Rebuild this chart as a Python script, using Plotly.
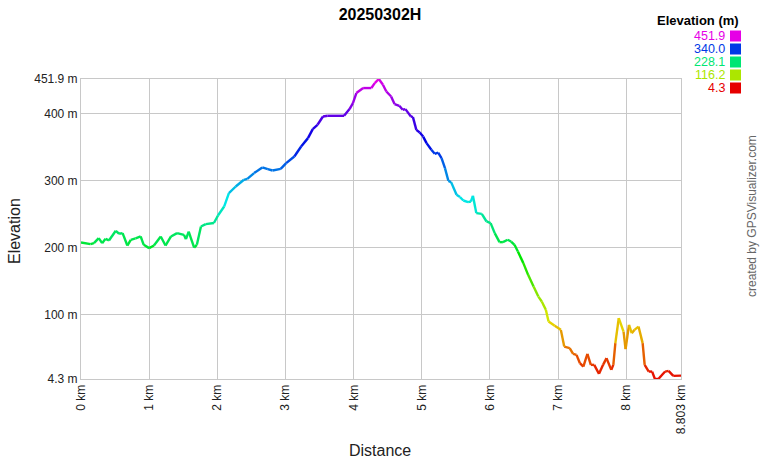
import colorsys
import plotly.graph_objects as go

# ---- data ----
dist_km = [0.00, 0.14, 0.19, 0.26, 0.31, 0.36, 0.41, 0.51, 0.56, 0.61, 0.68, 0.73, 0.80, 0.875, 0.92,
           1.00, 1.07, 1.17, 1.24, 1.32, 1.41, 1.51, 1.54, 1.58, 1.66, 1.70, 1.76, 1.83, 1.95, 2.01,
           2.10, 2.17, 2.27, 2.39, 2.44, 2.54, 2.66, 2.74, 2.81, 2.93, 3.01, 3.13, 3.23, 3.33, 3.40,
           3.47, 3.55, 3.62, 3.86, 3.94, 3.99, 4.04, 4.14, 4.26, 4.31, 4.37, 4.43, 4.48, 4.55, 4.60,
           4.67, 4.72, 4.76, 4.84, 4.87, 4.92, 4.97, 5.02, 5.07, 5.14, 5.19, 5.24, 5.29, 5.34, 5.39,
           5.43, 5.51, 5.56, 5.61, 5.68, 5.72, 5.75, 5.80, 5.88, 5.95, 6.01, 6.07, 6.14, 6.19, 6.26,
           6.31, 6.36, 6.41, 6.49, 6.56, 6.64, 6.71, 6.76, 6.82, 6.86, 6.95, 7.04, 7.09, 7.17, 7.22,
           7.27, 7.32, 7.37, 7.43, 7.48, 7.53, 7.60, 7.66, 7.71, 7.78, 7.81, 7.84, 7.89, 7.96, 7.99,
           8.04, 8.08, 8.12, 8.18, 8.24, 8.27, 8.33, 8.38, 8.42, 8.47, 8.57, 8.62, 8.69, 8.803]
elev_m = [207.9, 205.5, 207.0, 214.5, 207.0, 213.4, 211.0, 225.4, 221.0, 222.0, 203.4, 212.0, 214.0, 217.0, 204.5,
          199.6, 203.4, 217.0, 203.4, 217.0, 222.0, 219.4, 213.0, 224.3, 200.4, 204.5, 231.8, 235.4, 237.0, 248.2,
          261.6, 281.6, 291.5, 301.5, 303.0, 311.5, 319.9, 317.5, 315.4, 317.9, 326.4, 336.3, 351.2, 363.7, 377.2,
          383.6, 396.0, 397.0, 397.0, 407.0, 416.0, 430.9, 438.4, 438.4, 445.8, 451.9, 443.3, 433.3, 425.8, 414.5,
          411.9, 406.0, 407.0, 396.0, 395.0, 376.0, 372.0, 366.0, 356.3, 346.3, 340.3, 342.2, 333.9, 319.0, 300.0,
          298.0, 279.1, 275.7, 270.6, 268.2, 269.1, 277.6, 251.8, 250.7, 239.3, 236.9, 221.9, 208.5, 208.5, 212.0,
          209.4, 204.5, 194.5, 177.2, 159.7, 142.2, 127.3, 119.9, 107.5, 90.0, 83.6, 77.6, 52.7, 50.3, 41.8,
          40.3, 27.9, 22.8, 41.8, 25.4, 25.4, 12.0, 25.4, 35.4, 17.9, 25.4, 57.8, 95.0, 75.1, 48.8,
          85.0, 72.7, 77.6, 82.5, 57.8, 25.4, 15.4, 15.4, 4.3, 4.3, 15.4, 16.4, 8.9, 9.4]

y_tick_vals = [4.3, 100, 200, 300, 400, 451.9]
y_tick_text = ["4.3 m", "100 m", "200 m", "300 m", "400 m", "451.9 m"]
x_tick_vals = [0, 1, 2, 3, 4, 5, 6, 7, 8, 8.803]
x_tick_text = ["0 km", "1 km", "2 km", "3 km", "4 km", "5 km", "6 km", "7 km", "8 km", "8.803 km"]
legend_vals = [451.9, 340.0, 228.1, 116.2, 4.3]

E_MIN, E_MAX = 4.3, 451.9


def elev_color(e):
    f = max(0.0, min(1.0, (e - E_MIN) / (E_MAX - E_MIN)))
    r, g, b = colorsys.hsv_to_rgb(f * 300 / 360.0, 1.0, 0.9)
    return "rgb(%d,%d,%d)" % (round(r * 255), round(g * 255), round(b * 255))


fig = go.Figure()

# group segments into colour bins
NBINS = 60
bins = {}
for i in range(len(dist_km) - 1):
    mid = (elev_m[i] + elev_m[i + 1]) / 2
    k = int(round((mid - E_MIN) / (E_MAX - E_MIN) * NBINS))
    bx, by = bins.setdefault(k, ([], []))
    bx += [dist_km[i], dist_km[i + 1], None]
    by += [elev_m[i], elev_m[i + 1], None]

for k in sorted(bins):
    bx, by = bins[k]
    e = E_MIN + k / NBINS * (E_MAX - E_MIN)
    fig.add_trace(go.Scatter(x=bx, y=by, mode="lines",
                             line=dict(color=elev_color(e), width=2.4),
                             hoverinfo="skip", showlegend=False))

FONT = "Liberation Sans, Arial, sans-serif"
L, R, T, B = 81, 79, 79, 81
W, HH = 760, 460
PW, PH = W - L - R, HH - T - B


def pxx(px):
    return (px - L) / PW


def pxy(py):
    return (HH - B - py) / PH


grid = "#c8c8c8"
fig.update_layout(
    width=W, height=HH,
    margin=dict(l=L, r=R, t=T, b=B),
    paper_bgcolor="white", plot_bgcolor="white",
    font=dict(family=FONT, color="#222", size=12),
    title=dict(text="<b>20250302H</b>", x=0.5, xref="container", xanchor="center",
               y=1 - 14 / HH, yref="container", yanchor="middle",
               font=dict(size=16, family=FONT, color="#000")),
    xaxis=dict(range=[0, 8.803], tickvals=x_tick_vals, ticktext=x_tick_text,
               tickangle=-90, showgrid=True, gridcolor=grid, gridwidth=1,
               showline=True, linecolor=grid, mirror=True, zeroline=False,
               ticks="", tickfont=dict(size=12, color="#222")),
    yaxis=dict(range=[E_MIN, E_MAX], tickvals=y_tick_vals, ticktext=y_tick_text,
               showgrid=True, gridcolor=grid, gridwidth=1,
               showline=True, linecolor=grid, mirror=True, zeroline=False,
               ticks="", tickfont=dict(size=12, color="#222")),
)

ann = []
ann.append(dict(text="Elevation", x=pxx(15), y=pxy(231), xref="paper", yref="paper",
                textangle=-90, showarrow=False, font=dict(size=16, color="#222"),
                xanchor="center", yanchor="middle"))
ann.append(dict(text="Distance", x=pxx(380), y=pxy(450), xref="paper", yref="paper",
                showarrow=False, font=dict(size=16, color="#222"),
                xanchor="center", yanchor="middle"))
ann.append(dict(text="created by GPSVisualizer.com", x=pxx(752), y=pxy(216),
                xref="paper", yref="paper", textangle=-90, showarrow=False,
                font=dict(size=12, color="#666"), xanchor="center", yanchor="middle"))
ann.append(dict(text="<b>Elevation (m)</b>", x=pxx(741), y=pxy(21), xref="paper", yref="paper",
                showarrow=False, font=dict(size=13, color="#000"),
                xanchor="right", yanchor="middle"))
shapes = []
row_y = [36, 49, 62, 75, 88]
for v, ry in zip(legend_vals, row_y):
    c = elev_color(v)
    ann.append(dict(text="%.1f" % v, x=pxx(726), y=pxy(ry), xref="paper", yref="paper",
                    showarrow=False, font=dict(size=12.5, color=c),
                    xanchor="right", yanchor="middle", borderpad=0))
    shapes.append(dict(type="rect", xref="paper", yref="paper",
                       x0=pxx(730), x1=pxx(741), y0=pxy(ry + 5.5), y1=pxy(ry - 5.5),
                       fillcolor=c, line=dict(width=0)))
fig.update_layout(annotations=ann, shapes=shapes)

fig.write_html("out.html", config={"displayModeBar": False},
               post_script="document.body.style.margin='0';document.body.style.padding='0';")
